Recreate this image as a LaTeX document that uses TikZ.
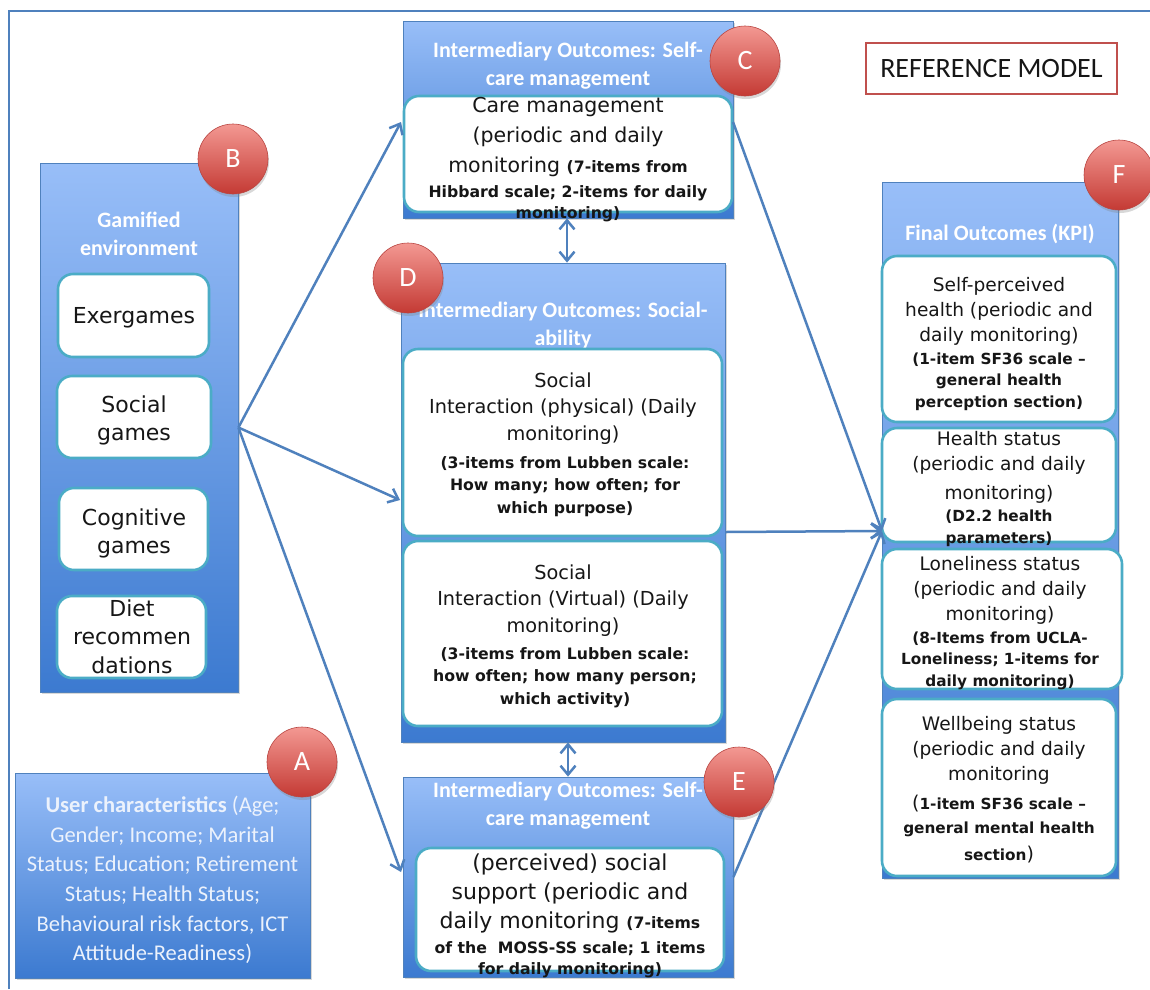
\documentclass[tikz,border=0pt]{standalone}
\usepackage{fontspec}
\setmainfont{Carlito}
\newfontfamily\vfont{DejaVu Sans}
\usetikzlibrary{arrows.meta,shadows}

\definecolor{frameblue}{RGB}{79,129,189}
\definecolor{boxtop}{RGB}{152,190,248}
\definecolor{boxbot}{RGB}{60,122,208}
\definecolor{tealline}{RGB}{75,172,198}
\definecolor{circtop}{RGB}{243,152,146}
\definecolor{circbot}{RGB}{196,58,52}
\definecolor{circedge}{RGB}{185,70,66}
\definecolor{textgray}{RGB}{22,22,22}
\definecolor{refred}{RGB}{192,80,77}
\definecolor{paletext}{RGB}{236,242,252}

% font switches: size and baseline skip in pt
\newcommand\txtreg[2]{\vfont\mdseries\fontsize{#1}{#2}\selectfont}
\newcommand\txtbold[2]{\vfont\bfseries\fontsize{#1}{#2}\selectfont}

\begin{document}
\begin{tikzpicture}[x=1pt,y=-1pt,
  outerbox/.style={rectangle, draw=frameblue, line width=0.8pt,
    top color=boxtop, bottom color=boxbot, inner sep=0,
    drop shadow={opacity=0.3, shadow xshift=1.5pt, shadow yshift=-2pt}},
  innerbox/.style={rectangle, draw=tealline, line width=2.6pt, fill=white,
    rounded corners=15pt, inner sep=0},
  boxtitle/.style={font=\bfseries\fontsize{22}{28}\selectfont, text=white,
    align=center, inner sep=0, anchor=north},
  body/.style={align=center, inner sep=0, anchor=north, text=textgray},
  letter/.style={circle, minimum size=70pt, inner sep=0, top color=circtop,
    bottom color=circbot, draw=circedge, line width=0.6pt, text=white,
    font=\fontsize{28}{28}\selectfont,
    drop shadow={opacity=0.3, shadow xshift=1pt, shadow yshift=-3pt}},
  barb/.tip={Straight Barb[length=9pt,width=15pt,line width=2.5pt]},
  conn/.style={draw=frameblue, line width=2.5pt, -barb},
  biconn/.style={draw=frameblue, line width=2.5pt, barb-barb}
]
\useasboundingbox (0,0) rectangle (1150,989);
\fill[white] (0,0) rectangle (1150,989);

% page frame
\draw[frameblue, line width=1.3pt] (9,989) -- (9,11) -- (1150,11);

% ---------- container boxes ----------
\node[outerbox, minimum width=198pt, minimum height=529pt] (B) at (139,427.5) {};
\node[outerbox, minimum width=330pt, minimum height=197pt] (C) at (568,119.5) {};
\node[outerbox, minimum width=324pt, minimum height=479pt] (D) at (563,502.5) {};
\node[outerbox, minimum width=330pt, minimum height=200pt] (E) at (568,877) {};
\node[outerbox, minimum width=295pt, minimum height=205pt] (A) at (162.5,875.5) {};
\node[outerbox, minimum width=236pt, minimum height=696pt] (F) at (1000,530) {};

% container titles
\node[boxtitle] (Bt) at (139,212) {Gamified\\environment};
\node[boxtitle] (Ct) at (568,42) {Intermediary Outcomes: Self-\\care management};
\node[boxtitle] (Dt) at (563,302) {Intermediary Outcomes: Social-\\ability};
\node[boxtitle] (Et) at (568,782) {Intermediary Outcomes: Self-\\care management};
\node[boxtitle] (Ft) at (1000,224) {Final Outcomes (KPI)};

% ---------- gamified environment ----------
\node[innerbox, minimum width=151pt, minimum height=83pt] (B1) at (133.5,315.5) {};
\node[innerbox, minimum width=154pt, minimum height=82pt] (B2) at (134,417) {};
\node[innerbox, minimum width=149pt, minimum height=82pt] (B3) at (133.5,529) {};
\node[innerbox, minimum width=149pt, minimum height=82pt] (B4) at (131.5,637) {};
\node[body, font=\txtreg{22}{28.5}] (B1t) at (134,307.4) {Exergames};
\node[body, font=\txtreg{22}{28.5}] (B2t) at (134,395.4) {Social\\games};
\node[body, font=\txtreg{22}{28.5}] (B3t) at (134,508.4) {Cognitive\\games};
\node[body, font=\txtreg{22}{28.5}] (B4t) at (132,599.4) {Diet\\recommen\\dations};

% ---------- self-care management (top) ----------
\node[innerbox, minimum width=328pt, minimum height=116pt] (Cin) at (568,154) {};
\node[body, font=\txtreg{20.5}{30}] (Cint) at (568,97) {Care management\\(periodic and daily\\monitoring {\txtbold{15.7}{21}(7-items from}\\[-5pt]
  {\txtbold{15.7}{21}Hibbard scale; 2-items for daily}\\[-9pt]
  {\txtbold{15.7}{21}monitoring)}};

% ---------- sociability ----------
\node[innerbox, minimum width=319pt, minimum height=187pt] (D1) at (562.5,442.5) {};
\node[innerbox, minimum width=319pt, minimum height=185pt] (D2) at (562.5,633.5) {};
\node[body, font=\txtreg{19.3}{26.5}] (D1t) at (563,372.6) {Social\\Interaction (physical) (Daily\\monitoring)};
\node[body, font=\txtbold{15.7}{22.5}] (D1b) at (565,456) {(3-items from Lubben scale:\\How many; how often; for\\which purpose)};
\node[body, font=\txtreg{19.3}{26.5}] (D2t) at (563,564.6) {Social\\Interaction (Virtual) (Daily\\monitoring)};
\node[body, font=\txtbold{15.7}{22.5}] (D2b) at (565,647) {(3-items from Lubben scale:\\how often; how many person;\\which activity)};

% ---------- self-care management (bottom) ----------
\node[innerbox, minimum width=308pt, minimum height=123pt] (Ein) at (570,909.5) {};
\node[body, font=\txtreg{22}{29}] (Eint) at (570,853.4) {(perceived) social\\support (periodic and\\daily monitoring {\txtbold{15.7}{21}(7-items}\\[-4pt]
  {\txtbold{15.7}{21}of the\ \ MOSS-SS scale; 1 items}\\[-8pt]
  {\txtbold{15.7}{21}for daily monitoring)}};

% ---------- user characteristics ----------
\node[body, text=paletext, font=\fontsize{22.5}{29.6}\selectfont] (At) at (162.5,796) {\textbf{User characteristics} (Age;\\Gender; Income; Marital\\Status; Education; Retirement\\Status; Health Status;\\Behavioural risk factors, ICT\\Attitude-Readiness)};

% ---------- final outcomes ----------
\node[innerbox, minimum width=234pt, minimum height=166pt] (F1) at (999,339) {};
\node[innerbox, minimum width=234pt, minimum height=114pt] (F2) at (999,485) {};
\node[innerbox, minimum width=240pt, minimum height=140pt] (F3) at (1002,619) {};
\node[innerbox, minimum width=234pt, minimum height=177pt] (F4) at (999,787.5) {};
\node[body, font=\txtreg{18.6}{25}] (F1t) at (999,276.8) {Self-perceived\\health (periodic and\\daily monitoring)};
\node[body, font=\txtbold{15.3}{21.5}] (F1b) at (999,352.5) {(1-item SF36 scale –\\general health\\perception section)};
\node[body, font=\txtreg{18.6}{25}] (F2t) at (999,430.8) {Health status\\(periodic and daily\\[4pt]monitoring)};
\node[body, font=\txtbold{15.3}{22}] (F2b) at (999,509.5) {(D2.2 health\\parameters)};
\node[body, font=\txtreg{18.6}{25}] (F3t) at (1000,555.8) {Loneliness status\\(periodic and daily\\monitoring)};
\node[body, font=\txtbold{15.3}{21.5}] (F3b) at (1000,631.5) {(8-Items from UCLA-\\Loneliness; 1-items for\\daily monitoring)};
\node[body, font=\txtreg{18.6}{25}] (F4t) at (999,715.8) {Wellbeing status\\(periodic and daily\\monitoring};
\node[body, font=\txtbold{15.3}{24}] (F4b) at (999,794.5) {{\txtreg{19}{24}(}1-item SF36 scale –\\general mental health\\[3pt]section{\txtreg{19}{24})}};

% ---------- label box ----------
\node[rectangle, draw=refred, line width=2pt, fill=white, minimum width=251pt,
  minimum height=51pt, inner sep=0, font=\fontsize{28}{28}\selectfont, text=textgray]
  (ref) at (991.5,68.5) {REFERENCE MODEL};

% ---------- connectors ----------
\coordinate (toC) at (401,122);
\coordinate (toD) at (400,500);
\coordinate (toE) at (401,872);
\coordinate (toF) at (882,531);
\coordinate (fromC) at (733,122);
\coordinate (fromD) at (725,532);

\draw[conn] (B.east) -- (toC);
\draw[conn] (B.east) -- (toD);
\draw[conn] (B.east) -- (toE);
\draw[conn] (fromC) -- (toF);
\draw[conn] (fromD) -- (toF);
\draw[conn] (E.east) -- (toF);
\draw[biconn] (C.south -| 567,0) -- (D.north -| 567,0);
\draw[biconn] (D.south -| 568,0) -- (E.north -| 568,0);

% ---------- letter markers ----------
\node[letter] (mA) at (302,762) {A};
\node[letter] (mB) at (233,159) {B};
\node[letter] (mC) at (745,61) {C};
\node[letter] (mD) at (408,278) {D};
\node[letter] (mE) at (739,782) {E};
\node[letter] (mF) at (1119,175) {F};
\end{tikzpicture}
\end{document}
